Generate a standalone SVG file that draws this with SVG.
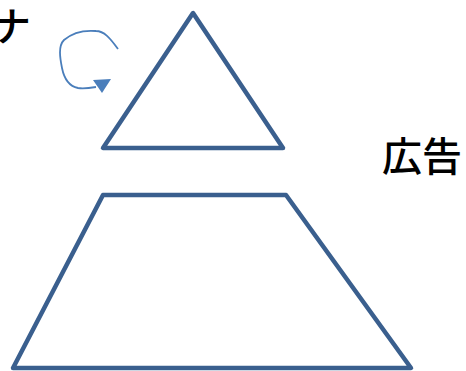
<svg xmlns="http://www.w3.org/2000/svg" width="466" height="371" viewBox="0 0 466 371">
<style>
.shape{fill:#fff;stroke:#3A5F8E;stroke-width:4.5;stroke-linejoin:round}
.lbl{font-family:"Noto Sans CJK JP","Noto Sans CJK SC",sans-serif;font-size:40px;font-weight:500;fill:#000}
.conn{fill:none;stroke:#4A7EBB;stroke-width:1.8}
</style>
<rect width="466" height="371" fill="#fff"/>
<g id="label-na"><text class="lbl" x="-9" y="41">ナ</text></g>
<g id="label-ad"><text class="lbl" x="382" y="171">広告</text></g>
<g id="triangle"><polygon class="shape" points="193,13 103,148 283,148"/></g>
<g id="trapezoid"><polygon class="shape" points="103,195 286,195 411,368 13,368"/></g>
<g id="connectors">
<path class="conn" d="M118,49 C110,38 104,31 96,31 C84,30 72,33 64,40 C58,46 60,58 62,68 C64,78 68,86 78,88 C84,89 90,88 96,87"/>
<polygon points="93,80 111,79 102,93" fill="#4A7EBB"/>
</g>
</svg>
